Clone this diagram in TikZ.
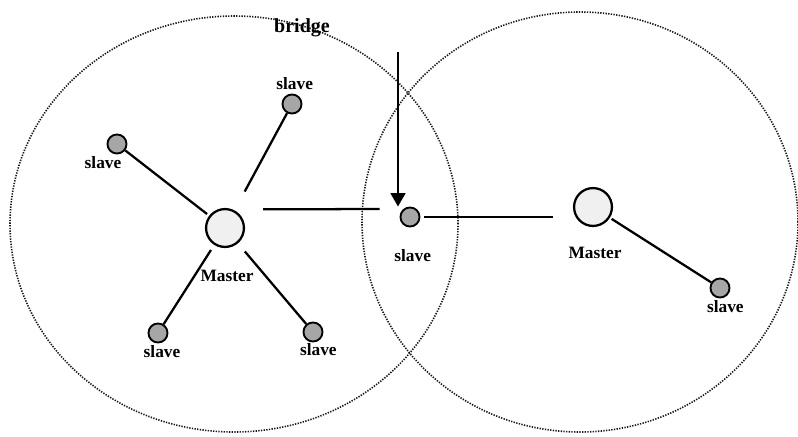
\documentclass[tikz,border=0pt]{standalone}
\usepackage{fontspec}
\setmainfont{Liberation Serif}
\usetikzlibrary{shapes,arrows.meta,positioning}

\begin{document}
\begin{tikzpicture}[x=0.75pt, y=-0.75pt,
    ring/.style={draw=black!90, line width=1.2pt, dash pattern=on 1pt off 1pt},
    master/.style={draw, circle, line width=1.7pt, fill=gray!12, minimum size=28.4pt, inner sep=0pt},
    slave/.style={draw, circle, line width=1.4pt, fill=black!35, minimum size=14.3pt, inner sep=0pt},
    link/.style={line width=1.7pt},
    tag/.style={inner sep=0pt, font=\fontsize{13}{15}\selectfont\bfseries}]
    \useasboundingbox (0,0) rectangle (798,436);

    % the two piconets
    \draw[ring] (234,224) ellipse [x radius=168pt, y radius=156pt];
    \draw[ring] (580,222) ellipse [x radius=163.5pt, y radius=157.5pt];

    \node[master] (lm) at (225,228) {};
    \node[master] (rm) at (593,207) {};
    \node[slave] (br) at (410,217) {};
    \node[slave] (s1) at (117,144) {};
    \node[slave] (s2) at (292,104) {};
    \node[slave] (s3) at (158,333) {};
    \node[slave] (s4) at (313,332) {};
    \node[slave] (s5) at (720,288) {};

    \node[tag, below=1.5pt of s1, xshift=-10.5pt] (s1t) {slave};
    \node[tag, above=3pt of s2, xshift=2pt] (s2t) {slave};
    \node[tag, below=1.5pt of s3, xshift=3pt] (s3t) {slave};
    \node[tag, below=0.5pt of s4, xshift=4pt] (s4t) {slave};
    \node[tag, below=1.5pt of s5, xshift=4pt] (s5t) {slave};
    \node[tag, below=16pt of br, xshift=2pt] (brt) {slave};
    \node[tag, below=16.5pt of lm, xshift=1.5pt] (lmt) {Master};
    \node[tag, below=15pt of rm, xshift=1.5pt] (rmt) {Master};

    \draw[link, shorten >=2pt] (s1) -- (lm);
    \draw[link, shorten <=16pt] (lm) -- (s2);
    \draw[link, shorten >=4.5pt] (s3) -- (lm);
    \draw[link, shorten >=8pt] (s4) -- (lm);
    \draw[link, shorten <=1.5pt] (rm) -- (s5);
    \draw[link] ([xshift=13.5pt,yshift=14pt]lm.east) -- ([xshift=-15pt,yshift=6pt]br.west);
    \draw[link, shorten <=3pt, shorten >=15pt] (br.east) -- (br.east -| rm.west);

    % bridge pointer
    \node[inner sep=0pt, font=\fontsize{15}{17}\selectfont\bfseries] (bridge) at (302,28) {bridge};
    \coordinate (bt) at (398,52);
    \draw[link, -{Triangle[width=11pt,length=10pt]}] (bt) -- (bt |- br.north);
\end{tikzpicture}
\end{document}
